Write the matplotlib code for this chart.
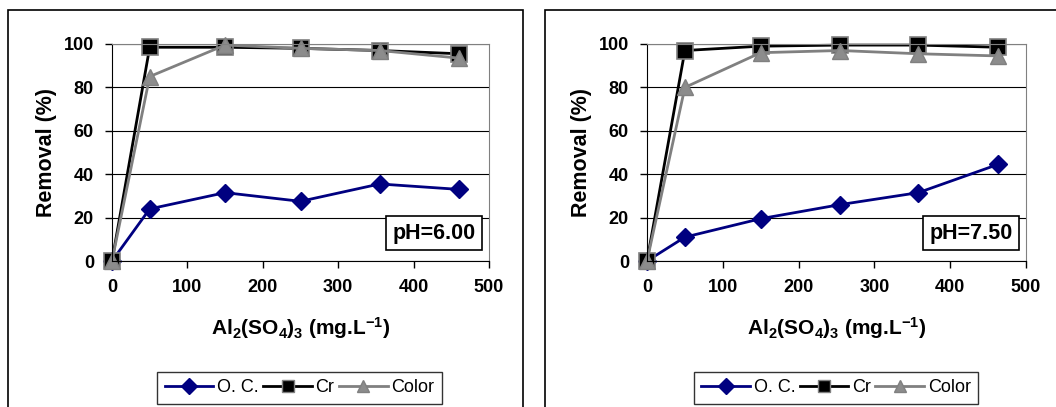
import matplotlib.pyplot as plt
from matplotlib.patches import Rectangle
from matplotlib.lines import Line2D

plt.rcParams['font.family'] = ['Liberation Sans', 'DejaVu Sans']
plt.rcParams['mathtext.fontset'] = 'custom'
plt.rcParams['mathtext.rm'] = 'Liberation Sans:bold'
plt.rcParams['mathtext.default'] = 'rm'

# dose of Al2(SO4)3 (mg/L)
dose_ph6 = [0, 50, 150, 250, 355, 460]
dose_ph75 = [0, 50, 150, 255, 358, 463]

# removal (%) at pH 6.00
oc_ph6 = [0, 24, 31.5, 27.5, 35.5, 33]
cr_ph6 = [0, 98.5, 98.5, 98, 97, 95.5]
color_ph6 = [0, 85, 99.5, 98, 97, 93.5]

# removal (%) at pH 7.50
oc_ph75 = [0, 11, 19.5, 26, 31.5, 44.5]
cr_ph75 = [0, 97, 99, 99.5, 99.5, 98.5]
color_ph75 = [0, 80, 96, 97, 95.5, 94.5]

series_names = ["O. C.", "Cr", "Color"]
ph_labels = ["pH=6.00", "pH=7.50"]

W, H = 1056, 407
fig = plt.figure(figsize=(W / 100, H / 100), dpi=100)


def fx(px):
    return px / W


def fy(py):
    return 1 - py / H


def panel(x0, ax_left, ax_right, dose, oc, cr, col, ph_text, leg_x, leg_w):
    # panel frame
    fig.patches.append(Rectangle((fx(x0), fy(420)), fx(515), fy(10) - fy(420),
                                 transform=fig.transFigure, fill=False,
                                 edgecolor='black', linewidth=1.2))
    ax = fig.add_axes([fx(ax_left), fy(261), fx(ax_right - ax_left), fy(44) - fy(261)])
    ax.plot(dose, oc, color='#000080', lw=2, marker='D', ms=9,
            mfc='#000080', mec='#000080', zorder=3, clip_on=False)
    ax.plot(dose, cr, color='black', lw=2, marker='s', ms=11,
            mfc='black', mec='#808080', mew=1.2, zorder=4, clip_on=False)
    ax.plot(dose, col, color='#808080', lw=2, marker='^', ms=12,
            mfc='#8c8c8c', mec='#808080', zorder=5, clip_on=False)
    ax.set_xlim(0, 500)
    ax.set_ylim(0, 100)
    ax.set_xticks(range(0, 501, 100))
    ax.set_yticks(range(0, 101, 20))
    ax.yaxis.grid(True, color='black', lw=0.8)
    ax.set_axisbelow(True)
    for s in ['top', 'right']:
        ax.spines[s].set_color('#808080')
    for s in ['left', 'bottom']:
        ax.spines[s].set_color('black')
    ax.tick_params(direction='out', length=5, width=1, labelsize=13, pad=8)
    for lab in ax.get_xticklabels() + ax.get_yticklabels():
        lab.set_fontweight('bold')
    ax.set_ylabel("Removal (%)", fontsize=15.5, fontweight='bold', labelpad=5)
    ax.set_xlabel("Al$_2$(SO$_4$)$_3$ (mg.L$^{-1}$)", fontsize=15,
                  fontweight='bold', labelpad=14)
    for spine in ax.spines.values():
        spine.set_zorder(6)
    ax.text(0.965, 0.128, ph_text, transform=ax.transAxes,
            fontsize=15.5, fontweight='bold', ha='right', va='center',
            bbox=dict(boxstyle='square,pad=0.3', fc='white', ec='black', lw=1.2),
            zorder=7)
    handles = [
        Line2D([], [], color='#000080', lw=2, marker='D', ms=8, mfc='#000080', mec='#000080'),
        Line2D([], [], color='black', lw=2, marker='s', ms=8, mfc='black', mec='#808080'),
        Line2D([], [], color='#808080', lw=2, marker='^', ms=9, mfc='#8c8c8c', mec='#808080'),
    ]
    fig.legend(handles, series_names, loc='center',
               bbox_to_anchor=(fx(leg_x + leg_w / 2), fy(388)),
               ncol=3, frameon=True, fancybox=False, edgecolor='black',
               fontsize=13, handlelength=2.7, handletextpad=0.2,
               columnspacing=0.25, borderpad=0.4)
    return ax


panel(8, 112, 489, dose_ph6, oc_ph6, cr_ph6, color_ph6, ph_labels[0], 159, 281)
panel(545, 647, 1026, dose_ph75, oc_ph75, cr_ph75, color_ph75, ph_labels[1], 696, 280)

fig.savefig("out.png", dpi=100)
